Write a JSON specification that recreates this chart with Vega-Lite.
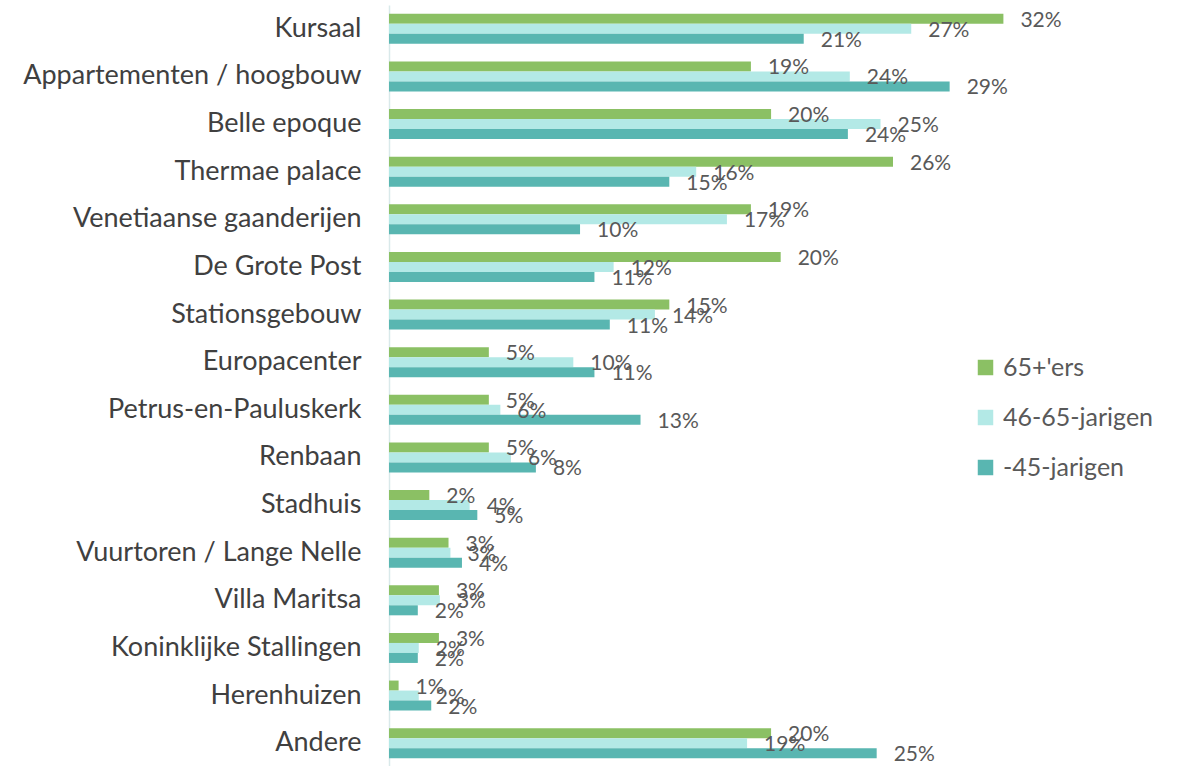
{
  "$schema": "https://vega.github.io/schema/vega-lite/v6.json",
  "autosize": {"type": "none"},
  "width": 672,
  "height": 762,
  "padding": {"left": 389, "top": 5, "right": 120, "bottom": 0},
  "background": "#ffffff",
  "config": {"view": {"stroke": null}, "font": "Lato"},
  "data": {
    "values": [
      {"loc": "Kursaal", "grp": "65+'ers", "v": 32.0, "lab": "32%"},
      {"loc": "Kursaal", "grp": "46-65-jarigen", "v": 27.2, "lab": "27%"},
      {"loc": "Kursaal", "grp": "-45-jarigen", "v": 21.6, "lab": "21%"},
      {"loc": "Appartementen / hoogbouw", "grp": "65+'ers", "v": 18.85, "lab": "19%"},
      {"loc": "Appartementen / hoogbouw", "grp": "46-65-jarigen", "v": 24.0, "lab": "24%"},
      {"loc": "Appartementen / hoogbouw", "grp": "-45-jarigen", "v": 29.2, "lab": "29%"},
      {"loc": "Belle epoque", "grp": "65+'ers", "v": 19.9, "lab": "20%"},
      {"loc": "Belle epoque", "grp": "46-65-jarigen", "v": 25.6, "lab": "25%"},
      {"loc": "Belle epoque", "grp": "-45-jarigen", "v": 23.9, "lab": "24%"},
      {"loc": "Thermae palace", "grp": "65+'ers", "v": 26.25, "lab": "26%"},
      {"loc": "Thermae palace", "grp": "46-65-jarigen", "v": 16.0, "lab": "16%"},
      {"loc": "Thermae palace", "grp": "-45-jarigen", "v": 14.6, "lab": "15%"},
      {"loc": "Venetiaanse gaanderijen", "grp": "65+'ers", "v": 18.85, "lab": "19%"},
      {"loc": "Venetiaanse gaanderijen", "grp": "46-65-jarigen", "v": 17.6, "lab": "17%"},
      {"loc": "Venetiaanse gaanderijen", "grp": "-45-jarigen", "v": 9.95, "lab": "10%"},
      {"loc": "De Grote Post", "grp": "65+'ers", "v": 20.4, "lab": "20%"},
      {"loc": "De Grote Post", "grp": "46-65-jarigen", "v": 11.7, "lab": "12%"},
      {"loc": "De Grote Post", "grp": "-45-jarigen", "v": 10.7, "lab": "11%"},
      {"loc": "Stationsgebouw", "grp": "65+'ers", "v": 14.6, "lab": "15%"},
      {"loc": "Stationsgebouw", "grp": "46-65-jarigen", "v": 13.85, "lab": "14%"},
      {"loc": "Stationsgebouw", "grp": "-45-jarigen", "v": 11.5, "lab": "11%"},
      {"loc": "Europacenter", "grp": "65+'ers", "v": 5.2, "lab": "5%"},
      {"loc": "Europacenter", "grp": "46-65-jarigen", "v": 9.6, "lab": "10%"},
      {"loc": "Europacenter", "grp": "-45-jarigen", "v": 10.7, "lab": "11%"},
      {"loc": "Petrus-en-Pauluskerk", "grp": "65+'ers", "v": 5.2, "lab": "5%"},
      {"loc": "Petrus-en-Pauluskerk", "grp": "46-65-jarigen", "v": 5.8, "lab": "6%"},
      {"loc": "Petrus-en-Pauluskerk", "grp": "-45-jarigen", "v": 13.1, "lab": "13%"},
      {"loc": "Renbaan", "grp": "65+'ers", "v": 5.2, "lab": "5%"},
      {"loc": "Renbaan", "grp": "46-65-jarigen", "v": 6.35, "lab": "6%"},
      {"loc": "Renbaan", "grp": "-45-jarigen", "v": 7.65, "lab": "8%"},
      {"loc": "Stadhuis", "grp": "65+'ers", "v": 2.1, "lab": "2%"},
      {"loc": "Stadhuis", "grp": "46-65-jarigen", "v": 4.2, "lab": "4%"},
      {"loc": "Stadhuis", "grp": "-45-jarigen", "v": 4.6, "lab": "5%"},
      {"loc": "Vuurtoren / Lange Nelle", "grp": "65+'ers", "v": 3.1, "lab": "3%"},
      {"loc": "Vuurtoren / Lange Nelle", "grp": "46-65-jarigen", "v": 3.2, "lab": "3%"},
      {"loc": "Vuurtoren / Lange Nelle", "grp": "-45-jarigen", "v": 3.8, "lab": "4%"},
      {"loc": "Villa Maritsa", "grp": "65+'ers", "v": 2.6, "lab": "3%"},
      {"loc": "Villa Maritsa", "grp": "46-65-jarigen", "v": 2.65, "lab": "3%"},
      {"loc": "Villa Maritsa", "grp": "-45-jarigen", "v": 1.5, "lab": "2%"},
      {"loc": "Koninklijke Stallingen", "grp": "65+'ers", "v": 2.6, "lab": "3%"},
      {"loc": "Koninklijke Stallingen", "grp": "46-65-jarigen", "v": 1.55, "lab": "2%"},
      {"loc": "Koninklijke Stallingen", "grp": "-45-jarigen", "v": 1.5, "lab": "2%"},
      {"loc": "Herenhuizen", "grp": "65+'ers", "v": 0.5, "lab": "1%"},
      {"loc": "Herenhuizen", "grp": "46-65-jarigen", "v": 1.55, "lab": "2%"},
      {"loc": "Herenhuizen", "grp": "-45-jarigen", "v": 2.2, "lab": "2%"},
      {"loc": "Andere", "grp": "65+'ers", "v": 19.9, "lab": "20%"},
      {"loc": "Andere", "grp": "46-65-jarigen", "v": 18.65, "lab": "19%"},
      {"loc": "Andere", "grp": "-45-jarigen", "v": 25.4, "lab": "25%"}
    ]
  },
  "encoding": {
    "y": {
      "field": "loc", "type": "nominal", "sort": null,
      "scale": {"paddingInner": 0.37, "paddingOuter": 0.185},
      "axis": {
        "title": null, "ticks": false, "domainColor": "#d9e9ea", "domainWidth": 1.5,
        "labelFontSize": 27, "labelColor": "#404040", "labelPadding": 28, "labelFont": "Lato", "labelLimit": 0
      }
    },
    "yOffset": {
      "field": "grp", "type": "nominal",
      "sort": ["65+'ers", "46-65-jarigen", "-45-jarigen"],
      "scale": {"paddingInner": 0, "paddingOuter": 0}
    },
    "x": {
      "field": "v", "type": "quantitative",
      "scale": {"domain": [0, 35], "nice": false}, "axis": null
    }
  },
  "layer": [
    {
      "mark": {"type": "bar"},
      "encoding": {
        "color": {
          "field": "grp", "type": "nominal",
          "sort": ["65+'ers", "46-65-jarigen", "-45-jarigen"],
          "scale": {"domain": ["65+'ers", "46-65-jarigen", "-45-jarigen"], "range": ["#8bc064", "#b3e9e6", "#59b6b1"]},
          "legend": {
            "title": null, "orient": "none", "legendX": 584, "legendY": 350,
            "symbolType": "square", "symbolSize": 240, "symbolStrokeWidth": 0,
            "labelFontSize": 25, "labelColor": "#595959", "labelFont": "Lato",
            "rowPadding": 24, "labelOffset": 5
          }
        }
      }
    },
    {
      "mark": {"type": "text", "align": "left", "baseline": "middle", "dx": 17, "dy": 2, "fontSize": 21, "color": "#595959", "font": "Lato"},
      "encoding": {"text": {"field": "lab"}}
    }
  ]
}
